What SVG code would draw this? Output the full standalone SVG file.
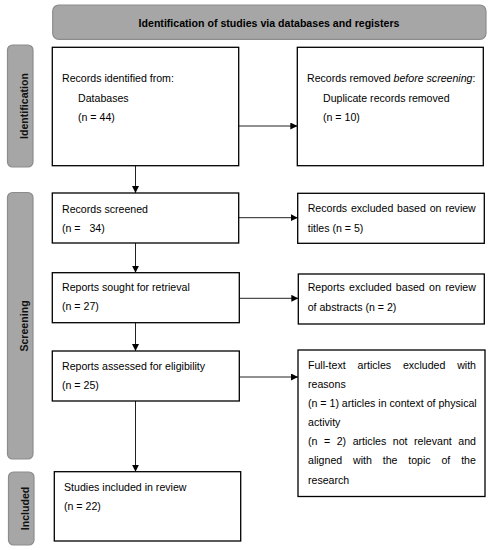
<svg xmlns="http://www.w3.org/2000/svg" width="491" height="550" viewBox="0 0 491 550">
<defs>
<style>
text{font-family:"Liberation Sans",Arial,sans-serif;font-size:10.6px;fill:#000}
.b{font-weight:bold}
.tab{fill:#a6a6a6;stroke:#8c8c8c;stroke-width:1.2}
.box{fill:#fff;stroke:#000;stroke-width:1.3}
.con{stroke:#222;stroke-width:1;fill:none}
.lab{font-weight:bold;fill:#111;text-anchor:middle}
</style>
<marker id="ah" viewBox="0 0 10 10" refX="10" refY="5" markerWidth="7" markerHeight="7" markerUnits="userSpaceOnUse" orient="auto">
<path d="M0,0 L10,5 L0,10 z" fill="#000"/>
</marker>
</defs>
<rect width="491" height="550" fill="#fff"/>

<g id="banner">
<rect class="tab" x="52.7" y="5" width="433.3" height="34.3" rx="6"/>
<text class="b" x="269" y="26.5" text-anchor="middle">Identification of studies via databases and registers</text>
</g>

<g id="tab-identification">
<rect class="tab" x="7.5" y="45" width="25.5" height="122" rx="5"/>
<text class="lab" transform="translate(27.5,106) rotate(-90)">Identification</text>
</g>
<g id="tab-screening">
<rect class="tab" x="7.5" y="192.5" width="25.5" height="266.5" rx="5"/>
<text class="lab" transform="translate(27.5,326) rotate(-90)">Screening</text>
</g>
<g id="tab-included">
<rect class="tab" x="8.5" y="472" width="25.5" height="73" rx="5"/>
<text class="lab" transform="translate(28.5,508.5) rotate(-90)">Included</text>
</g>

<g id="connectors">
<line class="con" x1="238.7" y1="126" x2="297.3" y2="126" marker-end="url(#ah)"/>
<line class="con" x1="135.5" y1="165.7" x2="135.5" y2="193" marker-end="url(#ah)"/>
<line class="con" x1="238.7" y1="217.7" x2="297.7" y2="217.7" marker-end="url(#ah)"/>
<line class="con" x1="135.5" y1="243" x2="135.5" y2="272.7" marker-end="url(#ah)"/>
<line class="con" x1="239.3" y1="298.3" x2="298.3" y2="298.3" marker-end="url(#ah)"/>
<line class="con" x1="135.5" y1="322.7" x2="135.5" y2="351" marker-end="url(#ah)"/>
<line class="con" x1="239.3" y1="377" x2="298" y2="377" marker-end="url(#ah)"/>
<line class="con" x1="135.5" y1="401" x2="135.5" y2="471.7" marker-end="url(#ah)"/>
</g>

<g id="records-identified">
<rect class="box" x="52.3" y="47.3" width="186.4" height="118.4"/>
<text x="62" y="82">Records identified from:</text>
<text x="78" y="101.5">Databases</text>
<text x="78" y="121">(n = 44)</text>
</g>

<g id="records-removed">
<rect class="box" x="297.3" y="47.3" width="186" height="118.4"/>
<text x="307" y="82">Records removed <tspan font-style="italic">before screening</tspan>:</text>
<text x="323" y="101.5">Duplicate records removed</text>
<text x="323" y="121">(n = 10)</text>
</g>

<g id="records-screened">
<rect class="box" x="52.3" y="193" width="186.4" height="50"/>
<text x="62" y="213">Records screened</text>
<text x="62" y="231.5" xml:space="preserve">(n =   34)</text>
</g>

<g id="records-excluded">
<rect class="box" x="297.7" y="193.3" width="186.6" height="50"/>
<text x="307.7" y="212" word-spacing="0.8">Records excluded based on review</text>
<text x="307.7" y="231.5">titles (n = 5)</text>
</g>

<g id="reports-sought">
<rect class="box" x="52.3" y="272.7" width="187" height="50"/>
<text x="62" y="291">Reports sought for retrieval</text>
<text x="62" y="310">(n = 27)</text>
</g>

<g id="reports-excluded">
<rect class="box" x="298.3" y="274" width="186" height="50"/>
<text x="307.7" y="291" word-spacing="1.4">Reports excluded based on review</text>
<text x="307.7" y="310.5">of abstracts (n = 2)</text>
</g>

<g id="reports-assessed">
<rect class="box" x="52.3" y="351" width="187" height="50"/>
<text x="62" y="370">Reports assessed for eligibility</text>
<text x="62" y="389">(n = 25)</text>
</g>

<g id="fulltext-excluded">
<rect class="box" x="298" y="350" width="187" height="146.5"/>
<text x="308" y="369" word-spacing="8.9">Full-text articles excluded with</text>
<text x="308" y="388">reasons</text>
<text x="308" y="407">(n = 1) articles in context of physical</text>
<text x="308" y="426">activity</text>
<text x="308" y="445" word-spacing="3.6">(n = 2) articles not relevant and</text>
<text x="308" y="464" word-spacing="7.9">aligned with the topic of the</text>
<text x="308" y="483.5">research</text>
</g>

<g id="studies-included">
<rect class="box" x="54.3" y="471.7" width="186.4" height="69.3"/>
<text x="64" y="491">Studies included in review</text>
<text x="64" y="510">(n = 22)</text>
</g>
</svg>
